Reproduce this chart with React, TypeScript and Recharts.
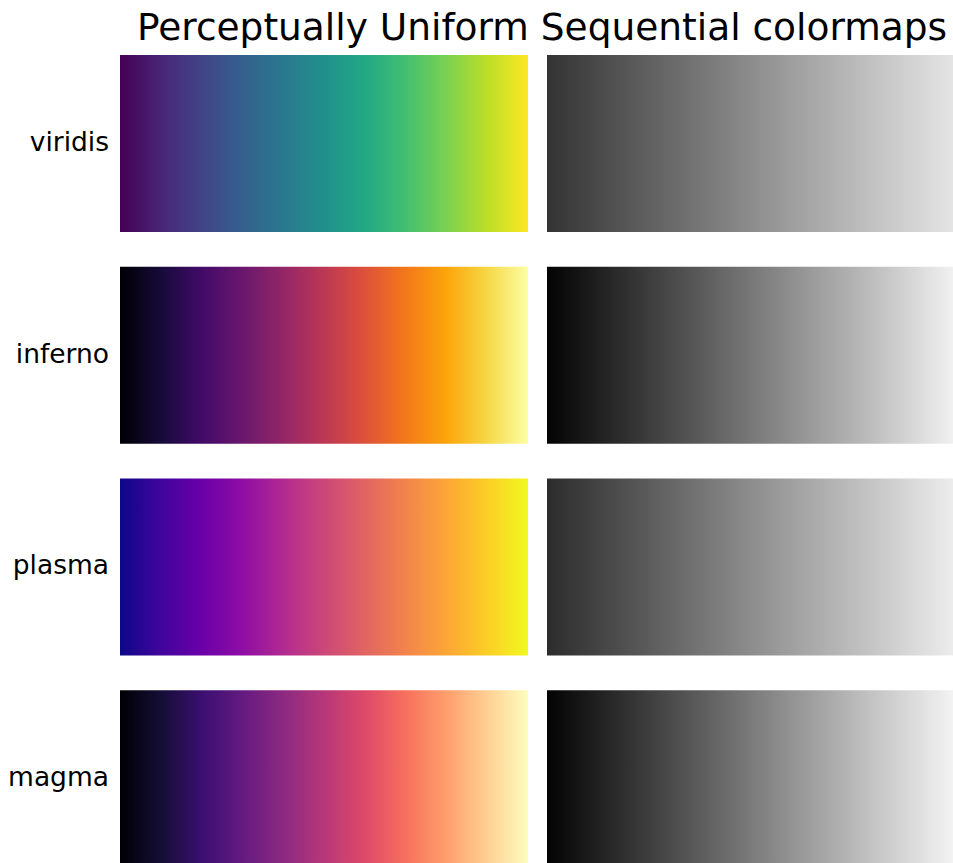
import React from 'react';
import { BarChart, Bar, XAxis, YAxis, Cell } from 'recharts';

// Colormap names (rows, top to bottom)
const colormapNames = ['viridis', 'inferno', 'plasma', 'magma'];

// Colour stops read along each colormap (evenly spaced from 0 to 1)
const viridisStops = ['#440154', '#482576', '#414487', '#35608d', '#2a788e', '#21908c', '#22a884', '#43bf71', '#7ad151', '#bbdf27', '#fde725'];
const infernoStops = ['#000004', '#160b39', '#420a68', '#6a176e', '#932667', '#bc3754', '#dd513a', '#f37819', '#fca50a', '#f6d746', '#fcffa4'];
const plasmaStops = ['#0d0887', '#41049d', '#6a00a8', '#8f0da4', '#b12a90', '#cc4778', '#e16462', '#f2844b', '#fca636', '#fcce25', '#f0f921'];
const magmaStops = ['#000004', '#140e36', '#3b0f70', '#641a80', '#8c2981', '#b73779', '#de4968', '#f7705c', '#fe9f6d', '#fecf92', '#fcfdbf'];

// Lightness (greyscale) stops for each colormap (evenly spaced from 0 to 1)
const viridisGray = ['#333333', '#575757', '#7a7a7a', '#9e9e9e', '#c2c2c2', '#e5e5e5'];
const infernoGray = ['#030303', '#313131', '#606060', '#8f8f8f', '#bebebe', '#f2f2f2'];
const plasmaGray = ['#2c2c2c', '#525252', '#797979', '#a0a0a0', '#c6c6c6', '#ededed'];
const magmaGray = ['#030303', '#323232', '#626262', '#939393', '#c4c4c4', '#f4f4f4'];

// Normalised extent of every colormap (0 -> 1)
const colormapExtent = [1, 1, 1, 1];

const colorStops = [viridisStops, infernoStops, plasmaStops, magmaStops];
const grayStops = [viridisGray, infernoGray, plasmaGray, magmaGray];

const titleText = 'Perceptually Uniform Sequential colormaps';

const rows = colormapNames.map((name, i) => ({ name, extent: colormapExtent[i] }));

const FONT = "'DejaVu Sans', sans-serif";

function Gradient({ id, stops }: { id: string; stops: string[] }) {
  return (
    <linearGradient id={id} x1="0" y1="0" x2="1" y2="0">
      {stops.map((c, i) => (
        <stop key={i} offset={i / (stops.length - 1)} stopColor={c} />
      ))}
    </linearGradient>
  );
}

function NameTick(props: any) {
  const { x, y, payload } = props;
  return (
    <text x={x} y={y} dy={7} textAnchor="end" fontFamily={FONT} fontSize={26.5} fill="#000">
      {payload.value}
    </text>
  );
}

export default function App() {
  const chartHeight = 885;
  const margin = { top: 38, right: 0, bottom: 0, left: 0 };
  return (
    <div style={{ position: 'absolute', left: 0, top: 0, width: 953, height: 863, overflow: 'hidden', background: '#fff' }}>
      <svg width={0} height={0} style={{ position: 'absolute' }}>
        <defs>
          {colormapNames.map((n, i) => (
            <Gradient key={'c' + n} id={'cm-' + n} stops={colorStops[i]} />
          ))}
          {colormapNames.map((n, i) => (
            <Gradient key={'g' + n} id={'gray-' + n} stops={grayStops[i]} />
          ))}
        </defs>
      </svg>

      <svg width={953} height={60} style={{ position: 'absolute', left: 0, top: 0 }}>
        <text x={542} y={40} textAnchor="middle" fontFamily={FONT} fontSize={37.5} fill="#000">
          {titleText}
        </text>
      </svg>

      <div style={{ position: 'absolute', left: 0, top: 0 }}>
        <BarChart width={528} height={chartHeight} data={rows} layout="vertical" margin={margin} barSize={177}>
          <XAxis type="number" domain={[0, 1]} hide />
          <YAxis
            type="category"
            dataKey="name"
            width={120}
            axisLine={false}
            tickLine={false}
            tickSize={0}
            tickMargin={11}
            tick={<NameTick />}
          />
          <Bar dataKey="extent" isAnimationActive={false}>
            {rows.map((r) => (
              <Cell key={r.name} fill={`url(#cm-${r.name})`} />
            ))}
          </Bar>
        </BarChart>
      </div>

      <div style={{ position: 'absolute', left: 547, top: 0 }}>
        <BarChart width={408} height={chartHeight} data={rows} layout="vertical" margin={margin} barSize={177}>
          <XAxis type="number" domain={[0, 1]} hide />
          <YAxis type="category" dataKey="name" hide />
          <Bar dataKey="extent" isAnimationActive={false}>
            {rows.map((r) => (
              <Cell key={r.name} fill={`url(#gray-${r.name})`} />
            ))}
          </Bar>
        </BarChart>
      </div>
    </div>
  );
}
